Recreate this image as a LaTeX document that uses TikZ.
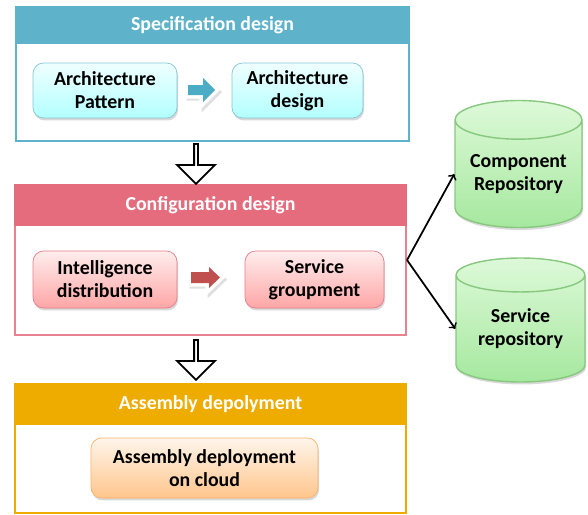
\documentclass[tikz,border=0pt]{standalone}
\usepackage{fontspec}
\setmainfont{Carlito}
\usepackage{xcolor}
\usepackage{tikz}
\usetikzlibrary{shapes.geometric,shapes.arrows,shadows}

\definecolor{specblue}{HTML}{5EB3CB}
\definecolor{confpink}{HTML}{E46C7D}
\definecolor{assorange}{HTML}{EFAC00}
\definecolor{stepblue}{HTML}{4BACC6}
\definecolor{stepred}{HTML}{C0504D}
\definecolor{repoedge}{HTML}{86C97E}
\definecolor{repotop}{HTML}{DDF9D8}
\definecolor{repobottom}{HTML}{A6E89F}

\tikzset{
  frame/.style={draw=#1, line width=1.2pt, fill=white, anchor=north west, inner sep=0pt},
  header/.style={draw=#1, fill=#1, line width=1.2pt, anchor=north west, inner sep=0pt, text=white},
  task/.style n args={3}{draw=#1, top color=#2, bottom color=#3, rounded corners=6pt,
    align=center, inner sep=0pt, drop shadow={opacity=0.3, shadow xshift=0.6pt, shadow yshift=-1.4pt}},
  stepper/.style={fill=#1, line join=miter,
    preaction={draw=black, fill=black, opacity=0.12, line width=4pt, transform canvas={shift={(1.2pt,-1.2pt)}}},
    preaction={draw=white, line width=4pt}},
  flow/.style={single arrow, draw=black, fill=white, line width=1pt, shape border rotate=270,
    inner sep=0pt, minimum height=0.8cm, minimum width=0.76cm, single arrow head extend=0.16cm},
  repo/.style={cylinder, shape border rotate=90, aspect=0.4, draw=repoedge, line width=0.8pt,
    top color=repotop, bottom color=repobottom, align=center, inner sep=0pt,
    drop shadow={opacity=0.3, shadow xshift=0.6pt, shadow yshift=-1.4pt}}
}

\begin{document}
\begin{tikzpicture}[x=0.02cm, y=-0.02cm, font=\fontsize{11.3}{13}\selectfont\bfseries]
        \useasboundingbox (0,0) rectangle (588,514);

        % three stage frames with their headers
        \node[frame=specblue, minimum width=7.86cm, minimum height=2.68cm] (spec) at (15,6) {};
        \node[header=specblue, minimum width=7.86cm, minimum height=0.72cm] (spechead) at (15,6) {Specification design};

        \node[frame=confpink!85!white, minimum width=7.82cm, minimum height=3.0cm] (conf) at (14,184) {};
        \node[header=confpink, minimum width=7.82cm, minimum height=0.8cm] (confhead) at (14,184) {Configuration design};

        \node[frame=assorange, minimum width=7.82cm, minimum height=2.58cm] (ass) at (14,383) {};
        \node[header=assorange, minimum width=7.82cm, minimum height=0.8cm] (asshead) at (14,383) {Assembly depolyment};

        % Specification row
        \node[task={stepblue!70!white}{cyan!6}{cyan!30}, minimum width=2.88cm, minimum height=1.1cm] (archpat) at (105,90.5) {Architecture\\Pattern};
        \node[task={stepblue!70!white}{cyan!6}{cyan!30}, minimum width=2.62cm, minimum height=1.1cm] (archdes) at (297.5,90.5) {Architecture\\design};
        \fill[stepper=stepblue] (188,85) -- (203,85) -- (203,78) -- (215,90) -- (203,102) -- (203,95) -- (188,95) -- cycle; % blue step

        % Configuration row
        \node[task={confpink!90!white}{red!7}{red!35}, minimum width=2.88cm, minimum height=1.14cm] (intel) at (105,279.5) {Intelligence\\distribution};
        \node[task={confpink!90!white}{red!7}{red!35}, minimum width=2.78cm, minimum height=1.14cm] (servgrp) at (314.5,279.5) {Service\\groupment};
        \fill[stepper=stepred] (191,272) -- (209,272) -- (209,267) -- (220,277.5) -- (209,288) -- (209,283) -- (191,283) -- cycle; % red step

        % Assembly row
        \node[task={orange!60!white}{orange!8}{orange!45}, minimum width=4.54cm, minimum height=1.2cm] (assdep) at (204.5,468) {Assembly deployment\\on cloud};

        % flow between stages
        \node[flow] (flowa) at (196,163) {};
        \node[flow] (flowb) at (196,359) {};

        % repositories
        \node[repo, minimum width=2.54cm, minimum height=2.54cm, anchor=shape center] (comprepo) at (518.5,164) {Component\\Repository};
        \node[repo, minimum width=2.58cm, minimum height=2.48cm, anchor=shape center] (servrepo) at (520.5,320) {Service\\repository};

        \draw[->, line width=1pt] (conf.east) -- (comprepo.west);
        \draw[->, line width=1pt] (conf.east) -- (servrepo.west);
    \end{tikzpicture}
\end{document}
